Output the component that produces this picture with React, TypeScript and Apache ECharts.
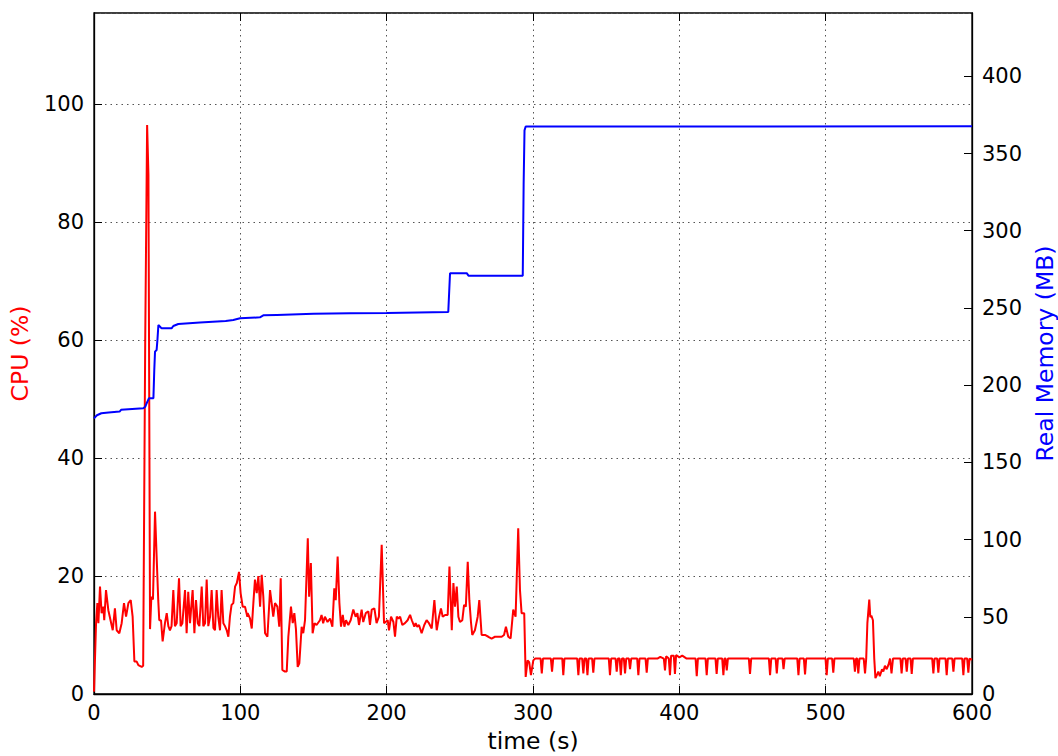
import React, { useEffect, useRef } from "react";
import * as echarts from "echarts";

// time (s) ticks
const xTicks = [0, 100, 200, 300, 400, 500, 600];
const cpuMax = 115.4;
const memMax = 441;

// CPU (%) samples: [time s, cpu %]
const cpuPoints: [number, number][] = [
  [0, 0.4], [1.4, 12], [2.3, 15.4], [3, 12], [4.1, 18.2], [5.2, 13.7], [6.4, 14.8], [7, 12.5], [8.2, 17.6], [9.8, 14.2],
  [11.3, 12.5], [12.8, 10.8], [14.3, 14.5], [15.5, 10.8], [17.3, 10.3], [18.9, 12], [20.5, 15.4], [21.9, 13.1], [23.5, 15.4],
  [25.1, 15.9], [26.4, 13.1], [27.6, 5.5], [29.2, 5.5], [30.3, 4.9], [32.6, 4.6], [33.6, 4.8], [35, 60], [36.3, 96.4], [37.2, 88],
  [38.3, 11], [39.2, 16.5], [40.3, 16], [41.7, 30.9], [42.8, 23.3], [43.9, 15.9], [44.6, 12.5], [45.8, 12.5], [46.9, 8.9],
  [48.5, 12], [49.7, 13.7], [50.8, 11.5], [51.9, 10.8], [53, 11.5], [54.2, 17.6], [55.3, 11.5], [56.5, 12], [58.1, 19.6],
  [59.2, 11.5], [60.4, 12], [62.2, 17.6], [63.3, 10.3], [64.4, 17.3], [65.6, 12], [67.4, 17.6], [68.6, 10.3], [69.7, 15.9],
  [70.9, 12], [72, 11.5], [73.6, 18.2], [74.7, 11.5], [75.9, 12], [77, 19.4], [78.1, 11.5], [79.3, 13.1], [80.4, 17.6],
  [81.6, 11.2], [82.7, 10.8], [83.8, 17.6], [84.9, 13.1], [86.1, 10.8], [87.2, 17.6], [88.4, 12], [89.5, 11.5], [90.7, 10.8],
  [91.8, 9.7], [92.9, 13.1], [94, 15.1], [95.2, 15.4], [96.4, 18.2], [97.6, 18.8], [99.1, 20.7], [100.2, 17.1], [101.6, 14.8],
  [103.2, 14.8], [104.8, 13.1], [105, 13.7], [106.6, 12.8], [107.8, 11.1], [108.9, 15.4], [110, 19.4], [111.2, 17.1], [112.3, 20],
  [113.5, 14.8], [114.6, 20.2], [115.7, 16.5], [116.9, 10.3], [118.5, 9.7], [120.3, 17.6], [121.4, 15.4], [122.5, 13.1],
  [123.7, 15.4], [125.3, 14.8], [126.6, 11.4], [127.6, 19.6], [128.7, 4.1], [130.5, 3.8], [131.7, 3.8], [132.8, 9.7],
  [134.6, 14.8], [135.8, 12], [136.9, 13.7], [138, 11], [139.2, 4.6], [140.3, 5.2], [141.9, 11.4], [143, 10.3], [144.2, 12.5],
  [146.1, 26.4], [147, 16.5], [148.2, 22.2], [149.4, 10.3], [150.7, 12], [152.1, 11.7], [154.4, 12.5], [155.5, 13.4], [156.6, 12],
  [157.8, 13.1], [159.6, 12.2], [161.3, 12.8], [162.9, 11.4], [164.2, 17.9], [165.2, 15.9], [166.5, 23.3], [167.7, 15.4],
  [168.8, 11.4], [170, 13.4], [171.1, 11.4], [172.2, 12.5], [173.8, 11.7], [175.4, 12.5], [177.2, 14.3], [178.8, 13.1],
  [180, 13.7], [181.1, 11.7], [182.9, 14.3], [184, 12.2], [185.7, 13.7], [187.5, 14], [188.6, 11.7], [189.8, 14.3], [191.6, 14.5],
  [193.1, 12], [194.7, 13.1], [196.6, 25.3], [198.2, 12], [200.7, 12.5], [201.6, 10.8], [203, 13.1], [204.6, 12.2], [205.7, 9.7],
  [206.9, 13.1], [208, 12.8], [209.2, 13.1], [210.7, 11.7], [212.5, 12], [214.3, 12.5], [216, 13.4], [217.2, 12.5], [218.9, 11.4],
  [219.8, 12], [220.9, 11.4], [222.1, 11.7], [223.9, 10.3], [225.7, 11.7], [227.3, 12.5], [228.9, 12], [230.8, 11.1],
  [232.6, 15.9], [234.2, 10.8], [235.8, 13.1], [237.1, 14.5], [238.3, 13.1], [239.9, 13.4], [241.7, 13.4], [242.9, 21.6],
  [244.5, 10.8], [245.6, 18.8], [246.7, 14.8], [247.9, 18.2], [249, 13.1], [250.1, 12.2], [251.7, 12.5], [252.9, 15.1],
  [254.1, 14.8], [255.4, 22.4], [256.5, 15.9], [257.6, 12.2], [258.5, 10], [260.3, 10.8], [262.2, 13.1], [263.3, 15.9],
  [264.9, 10], [267.2, 10], [269.5, 9.7], [271.7, 9.4], [274, 9.7], [276.3, 9.7], [278.6, 9.7], [280.2, 10], [281.5, 11.4],
  [283.1, 9.7], [284.7, 9.4], [286.5, 14.3], [288.1, 13.1], [289.9, 28.1], [291.1, 17.6], [292.2, 13.7], [294, 13.7], [295, 2.9],
  [296.3, 5.7], [297.4, 5.4], [298.6, 3.2], [300.2, 5.7], [301.5, 6], [305.2, 6], [306, 3.5], [306.8, 6], [312.2, 6], [313, 3.8],
  [313.8, 6], [320, 6], [320.7, 3.2], [321.5, 6], [330.2, 6], [331, 3.2], [331.8, 6], [333.6, 6], [334.4, 3.5], [335.2, 6],
  [336.4, 6], [337.2, 3.2], [338, 6], [340.4, 6], [341.2, 3.6], [342, 6], [351.8, 6], [352.6, 3.2], [353.4, 6], [356.4, 6],
  [357.2, 3.8], [358, 6], [359.2, 6], [360, 3.2], [360.8, 6], [362.1, 6], [362.9, 3.5], [363.7, 6], [365.5, 6], [366.3, 4.2],
  [367.1, 6], [371.2, 6], [372, 3.2], [372.8, 6], [376.9, 6], [377.7, 3.6], [378.5, 6], [385, 6], [387, 6.3], [389.4, 6],
  [390.2, 4], [391, 6.4], [392.8, 6], [393.6, 3.2], [394.4, 6.5], [396.2, 6.5], [397, 3.4], [397.8, 6.6], [400, 6.2], [402, 6.5],
  [405, 6], [411.1, 6], [411.9, 3], [412.7, 6], [417.9, 6], [418.7, 3.2], [419.5, 6], [424.7, 6], [425.5, 3.4], [426.3, 6],
  [429.3, 6], [430.1, 3.2], [430.9, 6], [431.6, 6], [432.4, 4], [433.2, 6], [447.5, 6], [448.3, 3.4], [449.1, 6], [461.2, 6],
  [462, 3.2], [462.8, 6], [465.8, 6], [466.6, 3.5], [467.4, 6], [470.5, 6], [471.2, 4.2], [472, 6], [480.6, 6], [481.4, 3.2],
  [482.2, 6], [485.1, 6], [485.9, 3.3], [486.7, 6], [499.9, 6], [500.7, 3.2], [501.5, 6], [504.4, 6], [505.2, 3.6], [506, 6],
  [519.2, 6], [520, 3.8], [520.8, 6], [521.5, 6], [522.3, 3.5], [523.1, 6], [526, 6], [526.9, 3.5], [527.7, 6], [528.5, 12],
  [529.8, 16], [530.5, 13], [531.2, 13.3], [532.3, 12.5], [533.2, 6], [534, 2.7], [535, 3.2], [536, 3.8], [537, 3], [538.5, 4.2],
  [539.4, 3.8], [540.5, 4.8], [541.7, 4.2], [543, 5], [544, 6], [545, 3.5], [546, 6], [551.1, 6], [551.9, 3.5], [552.7, 6],
  [554.6, 6], [555.4, 3.8], [556.2, 6], [558, 6], [558.8, 3.4], [559.6, 6], [572.8, 6], [573.6, 3.5], [574.4, 6], [576.2, 6],
  [577, 3.6], [577.8, 6], [581.9, 6], [582.7, 3.2], [583.5, 6], [586.5, 6], [587.3, 3.8], [588.1, 6], [593.3, 6], [594.1, 3.2],
  [594.9, 6], [596.7, 6], [597.5, 3.6], [598.3, 6], [600, 5.8],
];

// Real Memory (MB) samples: [time s, MB]
const memPoints: [number, number][] = [
  [0, 178.5], [2, 180.5], [5, 181.8], [10, 182.3], [17.5, 182.9], [18.5, 184], [33.7, 185], [35, 186], [36, 188.3],
  [37.5, 191.5], [40.6, 191.5], [41.2, 210], [41.7, 221.7], [42.8, 222.8], [43.4, 230], [44, 238.9], [45, 238],
  [46.2, 236.8], [53, 236.8], [54.2, 238.3], [57.6, 239.6], [72.4, 240.5], [90, 241.5], [95.2, 242.2], [99.8, 243.3],
  [113.4, 243.9], [115.7, 245.2], [125, 245.5], [150, 246.3], [175, 246.6], [200, 246.8], [242.1, 247.4], [243.3, 272.5],
  [254.7, 272.5], [255.9, 270.9], [293, 270.9], [293.6, 330], [294.2, 365], [295, 367.5], [600, 367.6],
];

const FONT = "DejaVu Sans";

export default function App() {
  const ref = useRef<HTMLDivElement>(null);
  useEffect(() => {
    if (!ref.current) return;
    const chart = echarts.init(ref.current, null, { renderer: "svg" });
    const tickLabel = { color: "#000", fontSize: 21, fontFamily: FONT };
    const tick = { show: true, inside: true, length: 8, lineStyle: { color: "#000", width: 1 } };
    const grid = { show: true, lineStyle: { color: "#555", width: 1, type: [1.5, 4] } };
    chart.setOption({
      animation: false,
      backgroundColor: "#fff",
      grid: {
        left: 94, right: 86, top: 13, bottom: 62,
        outerBoundsMode: "none", containLabel: false,
        show: true, borderColor: "#000", borderWidth: 1.3, backgroundColor: "transparent",
      },
      xAxis: [
        {
          type: "value", min: xTicks[0], max: xTicks[xTicks.length - 1], interval: 100,
          name: "time (s)", nameLocation: "middle", nameGap: 35,
          nameTextStyle: { color: "#000", fontSize: 23.5, fontFamily: FONT },
          axisLine: { show: true, onZero: false, lineStyle: { color: "#000", width: 1.3 } },
          axisTick: tick,
          axisLabel: { ...tickLabel, margin: 11, lineHeight: 16 },
          splitLine: grid,
        },
        {
          type: "value", position: "top", min: xTicks[0], max: xTicks[xTicks.length - 1], interval: 100,
          axisLine: { show: false, onZero: false },
          axisTick: tick,
          axisLabel: { show: false },
          splitLine: { show: false },
        },
      ],
      yAxis: [
        {
          type: "value", min: 0, max: cpuMax, interval: 20, position: "left",
          name: "CPU (%)", nameLocation: "middle", nameGap: 62,
          nameTextStyle: { color: "#ff0000", fontSize: 23.5, fontFamily: FONT },
          axisLine: { show: true, onZero: false, lineStyle: { color: "#000", width: 1.3 } },
          axisTick: tick,
          axisLabel: { ...tickLabel, margin: 10, showMaxLabel: false, lineHeight: 16 },
          splitLine: grid,
        },
        {
          type: "value", min: 0, max: memMax, interval: 50, position: "right",
          name: "Real Memory (MB)", nameLocation: "middle", nameGap: 55,
          nameTextStyle: { color: "#0000ff", fontSize: 23.5, fontFamily: FONT },
          axisLine: { show: true, onZero: false, lineStyle: { color: "#000", width: 1.3 } },
          axisTick: tick,
          axisLabel: { ...tickLabel, margin: 10, showMaxLabel: false, lineHeight: 16 },
          splitLine: { show: false },
        },
      ],
      series: [
        {
          type: "line", name: "CPU", xAxisIndex: 0, yAxisIndex: 0, data: cpuPoints,
          showSymbol: false, lineStyle: { color: "#ff0000", width: 2 }, itemStyle: { color: "#ff0000" },
        },
        {
          type: "line", name: "Memory", xAxisIndex: 0, yAxisIndex: 1, data: memPoints,
          showSymbol: false, lineStyle: { color: "#0000ff", width: 2 }, itemStyle: { color: "#0000ff" },
        },
      ],
    });
    return () => chart.dispose();
  }, []);
  return <div ref={ref} style={{ width: 1058, height: 756, position: "absolute", left: 0, top: 0 }} />;
}
